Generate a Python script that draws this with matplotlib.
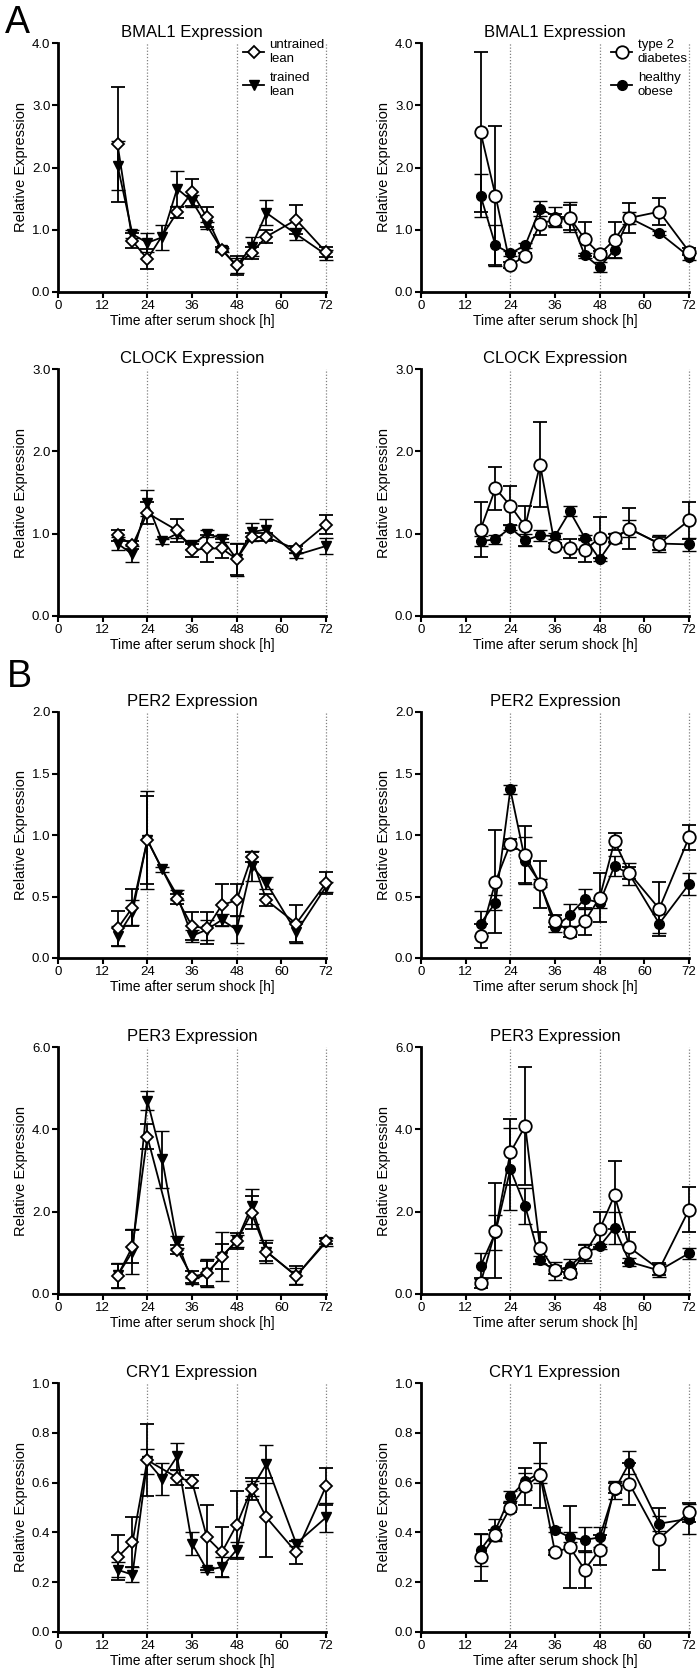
import numpy as np
import matplotlib
matplotlib.use("Agg")
import matplotlib.pyplot as plt

plt.rcParams["font.family"] = ["Liberation Sans", "DejaVu Sans"]

nan = np.nan

# ── Data ───────────────────────────────────────────────────────────────────
hours = [16, 20, 24, 28, 32, 36, 40, 44, 48, 52, 56, 64, 72]

# BMAL1
bmal1_untrained = [2.37, 0.82, 0.53, nan, 1.28, 1.60, 1.20, 0.68, 0.43, 0.63, 0.89, 1.16, 0.64]
bmal1_untrained_sem = [0.92, 0.12, 0.16, nan, 0.09, 0.22, 0.16, 0.04, 0.15, 0.10, 0.10, 0.23, 0.08]
bmal1_trained = [2.03, 0.93, 0.79, 0.88, 1.66, 1.46, 1.07, 0.68, 0.42, 0.73, 1.27, 0.93, 0.60]
bmal1_trained_sem = [0.39, 0.06, 0.15, 0.20, 0.28, 0.10, 0.05, 0.03, 0.12, 0.15, 0.20, 0.10, 0.08]
bmal1_t2d = [2.57, 1.55, 0.43, 0.58, 1.10, 1.16, 1.19, 0.85, 0.61, 0.84, 1.19, 1.29, 0.65]
bmal1_t2d_sem = [1.28, 1.12, 0.05, 0.05, 0.18, 0.10, 0.20, 0.27, 0.05, 0.29, 0.24, 0.22, 0.05]
bmal1_obese = [1.55, 0.75, 0.62, 0.75, 1.34, 1.21, 1.20, 0.59, 0.40, 0.68, 1.19, 0.95, 0.57]
bmal1_obese_sem = [0.34, 0.33, 0.04, 0.04, 0.12, 0.16, 0.24, 0.04, 0.08, 0.14, 0.10, 0.03, 0.05]

# CLOCK
clock_untrained = [0.98, 0.86, 1.25, nan, 1.04, 0.80, 0.82, 0.82, 0.69, 0.96, 0.96, 0.81, 1.11]
clock_untrained_sem = [0.07, 0.05, 0.13, nan, 0.14, 0.08, 0.16, 0.12, 0.19, 0.05, 0.05, 0.04, 0.12]
clock_trained = [0.88, 0.75, 1.37, 0.91, 1.00, 0.86, 1.00, 0.94, 0.69, 1.02, 1.05, 0.74, 0.85]
clock_trained_sem = [0.08, 0.10, 0.16, 0.03, 0.05, 0.05, 0.04, 0.04, 0.20, 0.11, 0.13, 0.03, 0.10]
clock_t2d = [1.05, 1.55, 1.34, 1.09, 1.84, 0.85, 0.82, 0.80, 0.95, 0.95, 1.06, 0.88, 1.16]
clock_t2d_sem = [0.33, 0.26, 0.24, 0.24, 0.52, 0.04, 0.11, 0.14, 0.25, 0.05, 0.25, 0.08, 0.23]
clock_obese = [0.91, 0.93, 1.07, 0.92, 0.98, 0.97, 1.27, 0.95, 0.69, 0.95, 1.06, 0.88, 0.87]
clock_obese_sem = [0.06, 0.05, 0.03, 0.07, 0.07, 0.04, 0.06, 0.03, 0.02, 0.06, 0.10, 0.10, 0.08]

# PER2
per2_untrained = [0.24, 0.41, 0.96, nan, 0.48, 0.26, 0.24, 0.43, 0.47, 0.82, 0.47, 0.28, 0.61]
per2_untrained_sem = [0.14, 0.15, 0.36, nan, 0.04, 0.11, 0.13, 0.17, 0.13, 0.04, 0.05, 0.15, 0.09]
per2_trained = [0.18, 0.37, 0.96, 0.72, 0.51, 0.18, 0.23, 0.31, 0.23, 0.75, 0.61, 0.21, 0.58]
per2_trained_sem = [0.08, 0.10, 0.40, 0.02, 0.04, 0.05, 0.08, 0.05, 0.11, 0.12, 0.05, 0.09, 0.04]
per2_t2d = [0.18, 0.62, 0.93, 0.84, 0.60, 0.30, 0.21, 0.30, 0.49, 0.95, 0.69, 0.40, 0.98]
per2_t2d_sem = [0.10, 0.42, 0.04, 0.23, 0.19, 0.05, 0.04, 0.11, 0.20, 0.07, 0.05, 0.22, 0.10]
per2_obese = [0.28, 0.45, 1.37, 0.79, 0.61, 0.25, 0.35, 0.48, 0.45, 0.75, 0.68, 0.28, 0.60]
per2_obese_sem = [0.10, 0.06, 0.04, 0.19, 0.03, 0.04, 0.09, 0.08, 0.04, 0.08, 0.09, 0.08, 0.09]

# PER3
per3_untrained = [0.44, 1.15, 3.82, nan, 1.08, 0.42, 0.50, 0.91, 1.29, 1.97, 1.03, 0.44, 1.29]
per3_untrained_sem = [0.30, 0.40, 0.30, nan, 0.10, 0.15, 0.30, 0.30, 0.20, 0.40, 0.22, 0.23, 0.08]
per3_trained = [0.45, 1.03, 4.70, 3.27, 1.27, 0.32, 0.50, 0.91, 1.29, 2.13, 1.03, 0.44, 1.26]
per3_trained_sem = [0.30, 0.54, 0.23, 0.70, 0.15, 0.08, 0.34, 0.60, 0.15, 0.43, 0.27, 0.20, 0.10]
per3_t2d = [0.26, 1.54, 3.44, 4.08, 1.11, 0.58, 0.50, 0.99, 1.57, 2.40, 1.13, 0.60, 2.05]
per3_t2d_sem = [0.12, 1.16, 0.80, 1.43, 0.39, 0.10, 0.10, 0.20, 0.43, 0.83, 0.37, 0.15, 0.55]
per3_obese = [0.68, 1.49, 3.03, 2.13, 0.82, 0.56, 0.68, 0.99, 1.16, 1.61, 0.78, 0.57, 0.99]
per3_obese_sem = [0.31, 0.42, 1.00, 0.44, 0.10, 0.22, 0.18, 0.23, 0.06, 0.39, 0.10, 0.15, 0.13]

# CRY1
cry1_untrained = [0.30, 0.36, 0.69, nan, 0.62, 0.605, 0.38, 0.32, 0.43, 0.575, 0.46, 0.32, 0.585]
cry1_untrained_sem = [0.09, 0.10, 0.145, nan, 0.03, 0.025, 0.13, 0.10, 0.135, 0.045, 0.16, 0.045, 0.075]
cry1_trained = [0.25, 0.23, 0.685, 0.615, 0.705, 0.355, 0.25, 0.26, 0.33, 0.575, 0.675, 0.355, 0.46]
cry1_trained_sem = [0.03, 0.03, 0.05, 0.065, 0.055, 0.045, 0.01, 0.04, 0.03, 0.03, 0.075, 0.01, 0.06]
cry1_t2d = [0.30, 0.39, 0.50, 0.585, 0.63, 0.32, 0.34, 0.25, 0.33, 0.58, 0.595, 0.375, 0.48]
cry1_t2d_sem = [0.095, 0.02, 0.02, 0.075, 0.13, 0.01, 0.165, 0.075, 0.06, 0.02, 0.085, 0.125, 0.04]
cry1_obese = [0.33, 0.41, 0.545, 0.605, 0.64, 0.41, 0.38, 0.37, 0.38, 0.57, 0.68, 0.435, 0.455]
cry1_obese_sem = [0.065, 0.045, 0.02, 0.035, 0.04, 0.01, 0.02, 0.05, 0.04, 0.035, 0.045, 0.03, 0.06]

genes = ["BMAL1", "CLOCK", "PER2", "PER3", "CRY1"]
y_max = [4.0, 3.0, 2.0, 6.0, 1.0]
y_step = [1.0, 1.0, 0.5, 2.0, 0.2]

left_data = [
    (bmal1_trained, bmal1_trained_sem, bmal1_untrained, bmal1_untrained_sem),
    (clock_trained, clock_trained_sem, clock_untrained, clock_untrained_sem),
    (per2_trained, per2_trained_sem, per2_untrained, per2_untrained_sem),
    (per3_trained, per3_trained_sem, per3_untrained, per3_untrained_sem),
    (cry1_trained, cry1_trained_sem, cry1_untrained, cry1_untrained_sem),
]
right_data = [
    (bmal1_obese, bmal1_obese_sem, bmal1_t2d, bmal1_t2d_sem),
    (clock_obese, clock_obese_sem, clock_t2d, clock_t2d_sem),
    (per2_obese, per2_obese_sem, per2_t2d, per2_t2d_sem),
    (per3_obese, per3_obese_sem, per3_t2d, per3_t2d_sem),
    (cry1_obese, cry1_obese_sem, cry1_t2d, cry1_t2d_sem),
]

# ── Styles ─────────────────────────────────────────────────────────────────
st_untrained = dict(marker="D", ms=6, mfc="white", mec="black", mew=1.3)
st_trained = dict(marker="v", ms=7, mfc="black", mec="black", mew=1.0)
st_t2d = dict(marker="o", ms=9, mfc="white", mec="black", mew=1.3)
st_obese = dict(marker="o", ms=7, mfc="black", mec="black", mew=1.0)


def draw_series(ax, means, sems, style, z):
    x = np.array(hours, dtype=float)
    m = np.array(means, dtype=float)
    s = np.array(sems, dtype=float)
    ok = ~np.isnan(m)
    line, caps, bars = ax.errorbar(x[ok], m[ok], yerr=s[ok], color="black", lw=1.3,
                                   elinewidth=1.3, capsize=5, capthick=1.3,
                                   zorder=z, **style)
    line.set_clip_on(False)
    for c in caps:
        c.set_clip_on(False)
    for b in bars:
        b.set_clip_on(False)
    return line


# ── Layout (figure pixels -> fractions) ────────────────────────────────────
W, H = 700, 1679
col_x = [58, 421]
ax_w = 268
rows = [(43, 292), (369, 616), (712, 958), (1047, 1294), (1383, 1632)]

fig = plt.figure(figsize=(7, 16.79), dpi=100)

for r, (top, bot) in enumerate(rows):
    for c in range(2):
        ax = fig.add_axes([col_x[c] / W, 1 - bot / H, ax_w / W, (bot - top) / H])
        for xv in (24, 48, 72):
            ax.axvline(xv, color="#808080", ls=(0, (1, 1.5)), lw=0.9, zorder=0, clip_on=False)

        if c == 0:
            m1, s1, m2, s2 = left_data[r]
            h1 = draw_series(ax, m1, s1, st_trained, 3)
            h2 = draw_series(ax, m2, s2, st_untrained, 4)
            labels = ["untrained\nlean", "trained\nlean"]
        else:
            m1, s1, m2, s2 = right_data[r]
            h1 = draw_series(ax, m1, s1, st_obese, 3)
            h2 = draw_series(ax, m2, s2, st_t2d, 4)
            labels = ["type 2\ndiabetes", "healthy\nobese"]

        ax.set_xlim(0, 72)
        ax.set_ylim(0, y_max[r])
        ax.set_xticks(range(0, 73, 12))
        ax.set_yticks(np.arange(0, y_max[r] + 1e-9, y_step[r]))
        ax.yaxis.set_major_formatter(matplotlib.ticker.FormatStrFormatter("%.1f"))

        for side in ("top", "right"):
            ax.spines[side].set_visible(False)
        for side in ("left", "bottom"):
            ax.spines[side].set_linewidth(2.0)
        ax.tick_params(direction="out", length=4, width=1.5, labelsize=9.5, pad=1.5)

        ax.set_title(f"{genes[r]} Expression", fontsize=12, pad=4)
        ax.set_xlabel("Time after serum shock [h]", fontsize=10, labelpad=2)
        ax.set_ylabel("Relative Expression", fontsize=10.5, labelpad=3)

        if r == 0:
            ax.legend([h2, h1], labels, loc="upper right",
                      bbox_to_anchor=(1.0, 1.02), frameon=False, fontsize=9.5,
                      handlelength=1.6, handletextpad=0.4, labelspacing=0.55,
                      borderpad=0.1, borderaxespad=0)

fig.text(5 / W, 1 - 33 / H, "A", fontsize=27, va="baseline", ha="left")
fig.text(7 / W, 1 - 687 / H, "B", fontsize=27, va="baseline", ha="left")

plt.savefig("out.png", dpi=100)
